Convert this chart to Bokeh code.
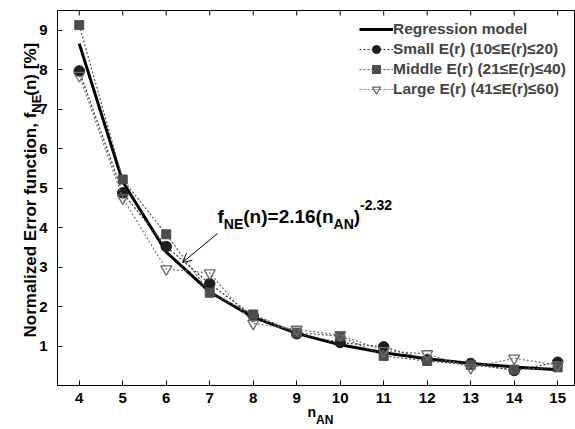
import math
from bokeh.plotting import figure
from bokeh.models import Range1d, Label, Arrow, OpenHead, Legend, LegendItem, FixedTicker, Title
from bokeh.embed import file_html
from bokeh.resources import INLINE

# ---------------- data ----------------
n_an = [4, 5, 6, 7, 8, 9, 10, 11, 12, 13, 14, 15]
regression = [8.66, 5.16, 3.38, 2.37, 1.73, 1.32, 1.03, 0.83, 0.68, 0.56, 0.47, 0.40]
small_er = [7.97, 4.88, 3.52, 2.58, 1.76, 1.31, 1.09, 0.98, 0.65, 0.56, 0.38, 0.59]
middle_er = [9.13, 5.22, 3.83, 2.35, 1.80, 1.34, 1.25, 0.75, 0.62, 0.52, 0.40, 0.46]
large_er = [7.85, 4.75, 2.95, 2.85, 1.57, 1.42, 1.28, 0.88, 0.80, 0.45, 0.69, 0.52]
x_ticks = [4, 5, 6, 7, 8, 9, 10, 11, 12, 13, 14, 15]
y_ticks = [1, 2, 3, 4, 5, 6, 7, 8, 9]
series_labels = ["Regression model",
                 "Small E(r) (10\u2264E(r)\u226420)",
                 "Middle E(r) (21\u2264E(r)\u226440)",
                 "Large E(r) (41\u2264E(r)\u226460)"]

FONT = "Liberation Sans"
W, H = 575, 429
BL, BR, BT, BB = 57, 0, 10, 44
X0, X1 = 3.5, 15.41
Y0, Y1 = 0.0, 9.5
FW = W - BL - BR
FH = H - BT - BB


def px_x(px):
    return X0 + (px - BL) * (X1 - X0) / FW


def px_y(py):
    return Y1 - (py - BT) * (Y1 - Y0) / FH


ARIAL_B = {' ': 278, '%': 889, '(': 333, ')': 333, ',': 278, '-': 333, '.': 278,
           '=': 584, 'A': 722, 'E': 667, 'N': 722, '[': 333, ']': 333, 'a': 556,
           'c': 556, 'd': 611, 'e': 556, 'f': 333, 'i': 278, 'l': 278, 'm': 889,
           'n': 611, 'o': 611, 'r': 389, 't': 333, 'u': 611, 'z': 500}


def tw(s, size):
    return sum(ARIAL_B.get(c, 556) for c in s) * size / 1000.0


p = figure(width=W, height=H, x_range=Range1d(X0, X1), y_range=Range1d(Y0, Y1),
           output_backend="svg", toolbar_location=None,
           min_border_left=BL, min_border_right=BR, min_border_top=BT, min_border_bottom=BB)
p.grid.visible = False
p.outline_line_color = "black"
p.outline_line_width = 1
p.background_fill_color = "white"
p.border_fill_color = "white"

for ax, ticks in ((p.xaxis[0], x_ticks), (p.yaxis[0], y_ticks)):
    ax.ticker = FixedTicker(ticks=ticks)
    ax.major_tick_in = 5
    ax.major_tick_out = 0
    ax.minor_tick_line_color = None
    ax.axis_line_color = "black"
    ax.major_label_text_font = FONT
    ax.major_label_text_font_style = "bold"
    ax.major_label_text_font_size = "15px"
    ax.major_label_text_color = "black"
p.xaxis.major_label_standoff = 7
p.yaxis.major_label_standoff = 10

# inward tick marks on the top edge of the box, at the x tick values
tick_len = 5 * (Y1 - Y0) / FH
p.segment(x0=x_ticks, y0=[Y1] * len(x_ticks), x1=x_ticks, y1=[Y1 - tick_len] * len(x_ticks),
          line_color="black", line_width=1)

# ---------------- series ----------------
reg = p.line(n_an, regression, line_color="black", line_width=3)

sl = p.line(n_an, small_er, line_color="#333333", line_width=1.2, line_dash="2 2")
sm = p.scatter(n_an, small_er, marker="circle", size=10.5, fill_color="#1e1e1e", line_color="#1e1e1e")

ml = p.line(n_an, middle_er, line_color="#555555", line_width=1.2, line_dash="2 2")
mm = p.scatter(n_an, middle_er, marker="square", size=9, fill_color="#4d4d4d", line_color="#4d4d4d")

ll = p.line(n_an, large_er, line_color="#777777", line_width=1.2, line_dash="2 2")
lm = p.scatter(n_an, large_er, marker="inverted_triangle", size=11, fill_alpha=0,
               line_color="#6a6a6a", line_width=1.3)

leg_rows, leg_pad, leg_row_h = 4, 7, 20
leg_h = leg_rows * leg_row_h + 2 * leg_pad
legend = Legend(items=[LegendItem(label=series_labels[0], renderers=[reg]),
                       LegendItem(label=series_labels[1], renderers=[sl, sm]),
                       LegendItem(label=series_labels[2], renderers=[ml, mm]),
                       LegendItem(label=series_labels[3], renderers=[ll, lm])],
                location=(359 - BL, FH + 5 - leg_h), border_line_color=None, background_fill_alpha=0,
                label_text_font=FONT, label_text_font_style="bold", label_text_font_size="15.5px",
                glyph_width=34, glyph_height=leg_row_h, label_height=leg_row_h, spacing=0,
                padding=leg_pad, margin=0, label_standoff=0)
p.add_layout(legend)


def add_text(x, y, text, size, angle=0.0):
    p.add_layout(Label(x=x, y=y, text=text, angle=angle, text_font=FONT,
                       text_font_style="bold", text_font_size="%dpx" % size,
                       text_color="black", text_align="left", text_baseline="alphabetic"))


# ---------------- equation annotation ----------------
main_sz, sub_sz = 19, 14
pieces = [("f", main_sz, 0), ("NE", sub_sz, 7), ("(n)=2.16(n", main_sz, 0),
          ("AN", sub_sz, 7), (")", main_sz, 0), ("-2.32", sub_sz, -12)]
cx = 217
base = 216
for txt, sz, dy in pieces:
    add_text(px_x(cx), px_y(base + dy), txt, sz)
    cx += tw(txt, sz)

p.add_layout(Arrow(end=OpenHead(size=9, line_width=1, line_color="black"),
                   x_start=px_x(217), y_start=px_y(233), x_end=px_x(182), y_end=px_y(262),
                   line_width=1, line_color="black"))


# ---------------- axis titles (side panels, so they are not clipped) ----------------
def side_title(text, size, side, offset, standoff, valign):
    t = Title(text=text, align="left", offset=offset, standoff=standoff, vertical_align=valign,
              text_font=FONT, text_font_style="bold", text_font_size="%dpx" % size,
              text_color="black")
    p.add_layout(t, side)


side_title("n", 14, "below", 307 - BL, -4, "top")
side_title("AN", 12, "below", 307 - BL + tw("n", 14), -14, "top")

ymain_sz, ysub_sz = 17, 13
y_start = 362
y_shift = 25
side_title("NE", ysub_sz, "left",
           (H - BB - y_start) + y_shift + tw("Normalized Error function, f", ymain_sz), -15, "bottom")
side_title("Normalized Error function, f\u2003(n) [%]", ymain_sz, "left",
           H - BB - y_start + y_shift, -11, "bottom")

open("out.html", "w").write(file_html(p, INLINE))
